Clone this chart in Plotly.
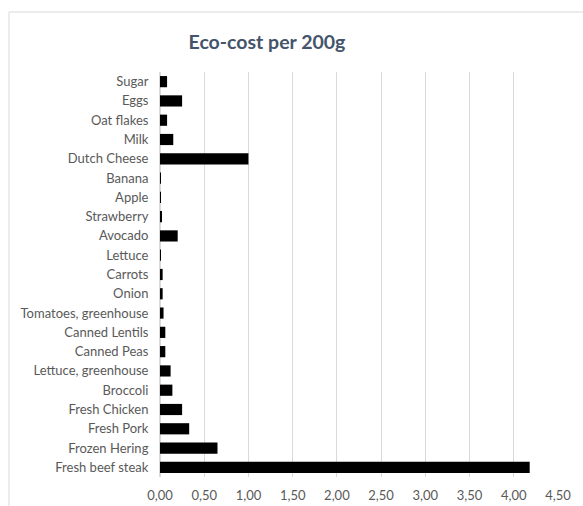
import plotly.graph_objects as go

categories = ["Sugar", "Eggs", "Oat flakes", "Milk", "Dutch Cheese", "Banana", "Apple",
              "Strawberry", "Avocado", "Lettuce", "Carrots", "Onion", "Tomatoes, greenhouse",
              "Canned Lentils", "Canned Peas", "Lettuce, greenhouse", "Broccoli",
              "Fresh Chicken", "Fresh Pork", "Frozen Hering", "Fresh beef steak"]
eco_cost = [0.08, 0.25, 0.08, 0.15, 1.00, 0.01, 0.01, 0.02, 0.20, 0.01, 0.03, 0.03, 0.04,
            0.06, 0.06, 0.12, 0.14, 0.25, 0.33, 0.65, 4.18]
x_ticks = [0, 0.5, 1.0, 1.5, 2.0, 2.5, 3.0, 3.5, 4.0, 4.5]

FONT = "Lato"
fig = go.Figure(go.Bar(
    x=eco_cost, y=categories, orientation="h",
    marker=dict(color="#000000", line=dict(width=0)),
))

W, H = 583, 506
L, R, T, B = 160, 25, 72, 29
pw, ph = W - L - R, H - T - B

def px2x(px):
    return (px - L) / pw

def py2y(py):
    return (H - B - py) / ph

fig.update_layout(
    width=W, height=H,
    margin=dict(l=L, r=R, t=T, b=B, autoexpand=False),
    paper_bgcolor="white", plot_bgcolor="white",
    separators=",.",
    bargap=0.42,
    showlegend=False,
    font=dict(family=FONT, size=13, color="#595959"),
    title=dict(text="Eco-cost per 200g", x=267 / W, xref="container", xanchor="center",
               y=1 - 42 / H, yanchor="middle",
               font=dict(family=FONT, size=19.5, color="#44546A", weight="bold")),
    xaxis=dict(range=[0, 4.5], tickvals=x_ticks, tickformat=".2f",
               showgrid=True, gridcolor="#D9D9D9", gridwidth=1,
               zeroline=True, zerolinecolor="#D9D9D9", showline=False,
               ticks="", ticklabelstandoff=9, tickfont=dict(size=13, color="#595959"),
               automargin=False, fixedrange=True),
    yaxis=dict(autorange="reversed", showgrid=False, showline=True,
               linecolor="#D9D9D9", ticks="", ticklabelstandoff=8,
               automargin=False,
               tickfont=dict(size=13, color="#595959")),
    shapes=[dict(type="rect", xref="paper", yref="paper",
                 x0=px2x(9), x1=px2x(600), y0=py2y(520), y1=py2y(12),
                 line=dict(color="#D9D9D9", width=1), fillcolor="rgba(0,0,0,0)",
                 layer="below")],
)

fig.write_html("out.html", config={"displayModeBar": False},
               post_script="document.body.style.margin='0';document.body.style.overflow='hidden';")
